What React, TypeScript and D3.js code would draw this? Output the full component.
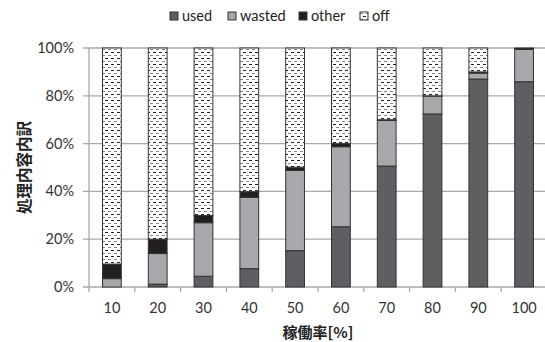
import React from "react";
import * as d3 from "d3";

const categories = ["10", "20", "30", "40", "50", "60", "70", "80", "90", "100"];
const used = [0, 1.2, 4.5, 7.7, 15.2, 25.2, 50.6, 72.4, 87.0, 85.9];
const wasted = [3.5, 12.8, 22.4, 29.8, 33.6, 33.5, 19.1, 7.5, 2.5, 13.5];
const other = [6.1, 6.0, 3.0, 2.4, 1.3, 1.3, 0.3, 0.1, 0.5, 0.6];
const off = [90.4, 80.0, 70.1, 60.1, 49.9, 40.0, 30.0, 20.0, 10.0, 0];
const seriesNames = ["used", "wasted", "other", "off"];
const yTicks = [0, 20, 40, 60, 80, 100];

const W = 545;
const H = 342;
const left = 89;
const right = 547;
const top = 48;
const bottom = 287;
const font = "Lato, 'Open Sans', sans-serif";

export default function App() {
  const x = d3.scaleBand<string>().domain(categories).range([left, right]).paddingInner(0.59).paddingOuter(0.295);
  const y = d3.scaleLinear().domain([0, 100]).range([bottom, top]);
  const rows = categories.map((c, i) => ({ cat: c, used: used[i], wasted: wasted[i], other: other[i], off: off[i] }));
  const stack = d3.stack<any>().keys(seriesNames)(rows);
  const fills: Record<string, string> = {
    used: "#5e5f63",
    wasted: "#a7a8ab",
    other: "#231f20",
    off: "url(#offPat)",
  };
  const step = (right - left) / categories.length;
  const legendX = [170, 228, 299, 360];
  return (
    <svg width={W} height={H} style={{ position: "absolute", left: 0, top: 0, background: "#fff" }}>
      <defs>
        <pattern id="offPat" width="6" height="6" patternUnits="userSpaceOnUse">
          <rect width="6" height="6" fill="#fff" />
          <rect x="0" y="1" width="3" height="1" fill="#888" />
          <rect x="3" y="4" width="3" height="1" fill="#222" />
        </pattern>
      </defs>
      {yTicks.map((t) => (
        <g key={t}>
          <line x1={left - 6} x2={W} y1={y(t)} y2={y(t)} stroke="#a9a9a9" strokeWidth={1.3} />
          <text x={74} y={y(t)} dy="0.35em" textAnchor="end" fontSize={14.5} fontFamily={font} fill="#333">
            {t}%
          </text>
        </g>
      ))}
      <line x1={left} x2={left} y1={top} y2={bottom} stroke="#a9a9a9" strokeWidth={1.3} />
      {categories.map((c, i) => (
        <line key={c} x1={left + i * step} x2={left + i * step} y1={bottom} y2={bottom + 5} stroke="#a9a9a9" strokeWidth={1.3} />
      ))}
      {stack.map((s) => (
        <g key={s.key}>
          {s.map((d, i) =>
            d[1] - d[0] > 0 ? (
              <rect
                key={i}
                x={x(categories[i])!}
                width={x.bandwidth()}
                y={y(d[1])}
                height={y(d[0]) - y(d[1])}
                fill={fills[s.key]}
                stroke="#333"
                strokeWidth={1}
              />
            ) : null
          )}
        </g>
      ))}
      {categories.map((c) => (
        <text key={c} x={x(c)! + x.bandwidth() / 2} y={308} dy="0.35em" textAnchor="middle" fontSize={14.5} fontFamily={font} fill="#333">
          {c}
        </text>
      ))}
      <text x={318} y={333} dy="0.35em" textAnchor="middle" fontSize={15} fontWeight="bold" fontFamily="'Noto Sans CJK JP', sans-serif" fill="#222">
        稼働率[%]
      </text>
      <text
        transform={`translate(25,${(top + bottom) / 2}) rotate(-90)`}
        dy="0.35em"
        textAnchor="middle"
        fontSize={15.5}
        fontWeight="bold"
        fontFamily="'Noto Sans CJK JP', sans-serif"
        fill="#222"
      >
        処理内容内訳
      </text>
      {seriesNames.map((n, i) => (
        <g key={n}>
          <rect x={legendX[i]} y={12} width={8} height={8} fill={fills[n]} stroke="#333" strokeWidth={1} />
          <text x={legendX[i] + 12} y={16} dy="0.35em" fontSize={14.5} fontFamily={font} fill="#222">
            {n}
          </text>
        </g>
      ))}
    </svg>
  );
}
